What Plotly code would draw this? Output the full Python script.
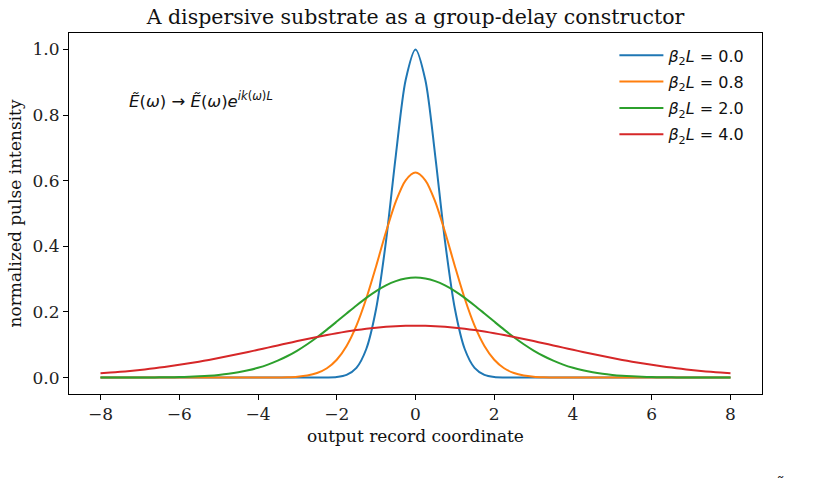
import plotly.graph_objects as go

# output record coordinate grid (step 0.25)
x_coord = [-8.0, -7.75, -7.5, -7.25, -7.0, -6.75, -6.5, -6.25, -6.0, -5.75, -5.5, -5.25,
           -5.0, -4.75, -4.5, -4.25, -4.0, -3.75, -3.5, -3.25, -3.0, -2.75, -2.5, -2.25,
           -2.0, -1.75, -1.5, -1.25, -1.0, -0.75, -0.5, -0.25, 0.0, 0.25, 0.5, 0.75,
           1.0, 1.25, 1.5, 1.75, 2.0, 2.25, 2.5, 2.75, 3.0, 3.25, 3.5, 3.75,
           4.0, 4.25, 4.5, 4.75, 5.0, 5.25, 5.5, 5.75, 6.0, 6.25, 6.5, 6.75,
           7.0, 7.25, 7.5, 7.75, 8.0]

labels = ["0.0", "0.8", "2.0", "4.0"]

intensity_b00 = [0, 0, 0, 0, 0, 0, 0, 0, 0, 0, 0, 0, 0, 0, 0, 0, 0, 0, 0, 0, 0, 0,
                 0.0001, 0.0004, 0.0019, 0.0084, 0.0297, 0.0871, 0.2096, 0.4152, 0.6767, 0.907,
                 1.0,
                 0.907, 0.6767, 0.4152, 0.2096, 0.0871, 0.0297, 0.0084, 0.0019, 0.0004, 0.0001,
                 0, 0, 0, 0, 0, 0, 0, 0, 0, 0, 0, 0, 0, 0, 0, 0, 0, 0, 0, 0, 0, 0]

intensity_b08 = [0, 0, 0, 0, 0, 0, 0, 0, 0, 0, 0, 0, 0, 0, 0, 0, 0,
                 0.0001, 0.0004, 0.0010, 0.0026, 0.0062, 0.0138, 0.0285, 0.0545, 0.0965, 0.1584,
                 0.2410, 0.3395, 0.4434, 0.5364, 0.6013,
                 0.6247,
                 0.6013, 0.5364, 0.4434, 0.3395, 0.2410, 0.1584, 0.0965, 0.0545, 0.0285, 0.0138,
                 0.0062, 0.0026, 0.0010, 0.0004, 0.0001,
                 0, 0, 0, 0, 0, 0, 0, 0, 0, 0, 0, 0, 0, 0, 0, 0, 0]

intensity_b20 = [0.0000, 0.0001, 0.0001, 0.0002, 0.0003, 0.0004, 0.0007, 0.0011, 0.0016, 0.0025,
                 0.0038, 0.0056, 0.0081, 0.0115, 0.0161, 0.0222, 0.0299, 0.0396, 0.0515, 0.0658,
                 0.0825, 0.1017, 0.1230, 0.1462, 0.1706, 0.1954, 0.2199, 0.2430, 0.2636, 0.2809,
                 0.2939, 0.3020,
                 0.3048,
                 0.3020, 0.2939, 0.2809, 0.2636, 0.2430, 0.2199, 0.1954, 0.1706, 0.1462, 0.1230,
                 0.1017, 0.0825, 0.0658, 0.0515, 0.0396, 0.0299, 0.0222, 0.0161, 0.0115, 0.0081,
                 0.0056, 0.0038, 0.0025, 0.0016, 0.0011, 0.0007, 0.0004, 0.0003, 0.0002, 0.0001,
                 0.0001, 0.0000]

intensity_b40 = [0.0130, 0.0152, 0.0176, 0.0203, 0.0234, 0.0267, 0.0304, 0.0344, 0.0388, 0.0435,
                 0.0486, 0.0539, 0.0596, 0.0655, 0.0717, 0.0781, 0.0847, 0.0913, 0.0980, 0.1047,
                 0.1112, 0.1176, 0.1238, 0.1297, 0.1352, 0.1402, 0.1447, 0.1487, 0.1520, 0.1546,
                 0.1565, 0.1576,
                 0.1580,
                 0.1576, 0.1565, 0.1546, 0.1520, 0.1487, 0.1447, 0.1402, 0.1352, 0.1297, 0.1238,
                 0.1176, 0.1112, 0.1047, 0.0980, 0.0913, 0.0847, 0.0781, 0.0717, 0.0655, 0.0596,
                 0.0539, 0.0486, 0.0435, 0.0388, 0.0344, 0.0304, 0.0267, 0.0234, 0.0203, 0.0176,
                 0.0152, 0.0130]

series = [intensity_b00, intensity_b08, intensity_b20, intensity_b40]
colors = ["#1f77b4", "#ff7f0e", "#2ca02c", "#d62728"]

x_ticks = [-8, -6, -4, -2, 0, 2, 4, 6, 8]
y_ticks = [0.0, 0.2, 0.4, 0.6, 0.8, 1.0]

SERIF = "DejaVu Serif"
SANS = "DejaVu Sans"

fig = go.Figure()
for i, (lab, ys, col) in enumerate(zip(labels, series, colors)):
    fig.add_trace(go.Scatter(
        x=x_coord, y=ys, mode="lines",
        line=dict(color=col, width=2, shape="spline", smoothing=0.8),
        name="<i>β</i><sub>2</sub><i>L</i> = " + lab,
        legendgroup="g%d" % i,
    ))

axis_common = dict(
    showline=True, linecolor="black", linewidth=1.1, mirror=True,
    ticks="outside", ticklen=5, tickwidth=1.1, tickcolor="black",
    showgrid=False, zeroline=False,
    tickfont=dict(family=SERIF, size=17, color="#222"),
)

fig.update_layout(
    width=818, height=478,
    paper_bgcolor="white", plot_bgcolor="white",
    margin=dict(l=69, r=56, t=33, b=84),
    title=dict(text="A dispersive substrate as a group-delay constructor",
               font=dict(family=SERIF, size=20.5, color="#111"),
               x=0.5, xref="paper", xanchor="center",
               y=1, yref="paper", yanchor="bottom", pad=dict(b=9)),
    xaxis=dict(range=[-8.8, 8.8], tickvals=x_ticks,
               title=dict(text="output record coordinate",
                          font=dict(family=SERIF, size=17, color="#111"), standoff=6),
               **axis_common),
    yaxis=dict(range=[-0.05, 1.05], tickvals=y_ticks, tickformat=".1f",
               title=dict(text="normalized pulse intensity",
                          font=dict(family=SERIF, size=17, color="#111"), standoff=6),
               **axis_common),
    legend=dict(x=0.787, y=0.985, xanchor="left", yanchor="top",
                bgcolor="rgba(0,0,0,0)", borderwidth=0,
                font=dict(family=SANS, size=16, color="#111"),
                tracegroupgap=2.5, itemwidth=44),
    showlegend=True,
)

fig.add_annotation(
    xref="paper", yref="paper", x=(127 - 69) / 693, y=(394 - 100) / 361,
    xanchor="left", yanchor="middle", showarrow=False,
    text="<i>E\u0303</i>(<i>ω</i>) → <i>E\u0303</i>(<i>ω</i>)<i>e</i><sup><i>ik</i>(<i>ω</i>)<i>L</i></sup>",
    font=dict(family=SANS, size=16.5, color="#111"),
)

# clipped stray text at the lower-right edge
fig.add_annotation(
    xref="paper", yref="paper", x=(772 - 69) / 693, y=(394 - 474) / 361,
    xanchor="left", yanchor="top", showarrow=False,
    text="<i>E\u0303</i>(<i>ω</i>)",
    font=dict(family=SANS, size=16, color="#111"),
)

fig.write_html("out.html")
